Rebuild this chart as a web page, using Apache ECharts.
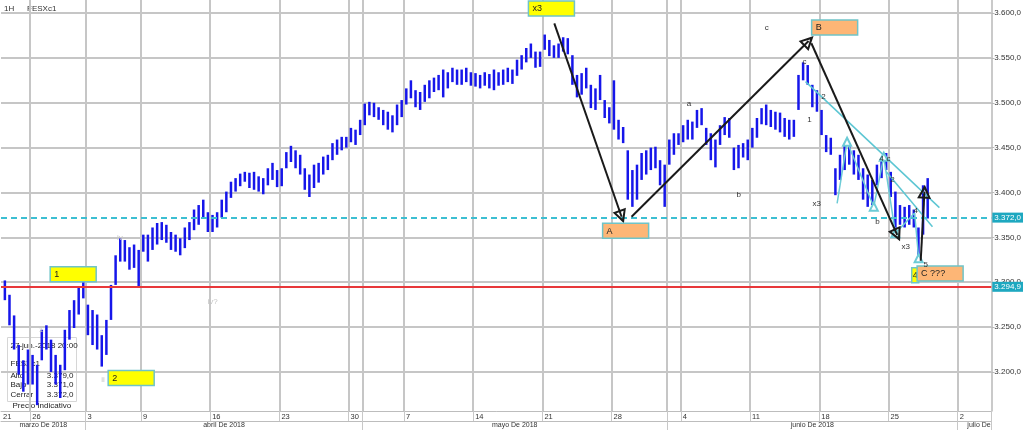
<!DOCTYPE html>
<html><head><meta charset="utf-8">
<script src="https://cdn.jsdelivr.net/npm/echarts@6/dist/echarts.min.js"></script>
<style>html,body{margin:0;padding:0;background:#fff}#c{width:1024px;height:430px}</style>
</head><body><div id="c"></div>
<script>
const FONT = '"Liberation Sans", Arial, Helvetica, sans-serif';

// ---- x axis: trading-day index (0 = 21 mar 2018, 3 = 26 mar, 70 = 2 jul) ----
const xMin = 0.887, xMax = 72.43;
const gridDays = [3, 7, 11, 16, 21, 26, 27, 30, 35, 40, 45, 49, 50, 55, 60, 65, 70];
const weekLabelDays = [xMin, 3, 7, 11, 16, 21, 26, 30, 35, 40, 45, 50, 55, 60, 65, 70];
const weekLabels = ['21', '26', '3', '9', '16', '23', '30', '7', '14', '21', '28', '4', '11', '18', '25', '2'];
const monthBoundaries = [7, 27, 49, 70];
const monthLabelDays = [(xMin + 7) / 2, 17, 38, 59.5];
const monthLabels = ['marzo De 2018', 'abril De 2018', 'mayo De 2018', 'junio De 2018'];
const lastMonthLabel = 'julio De 2018';
const lastMonthDay = 70.7;

// ---- y axis ----
const yMin = 3156.5, yMax = 3614.5;
const priceTicks = [3200, 3250, 3300, 3350, 3400, 3450, 3500, 3550, 3600];

// ---- price bars (3 slots per trading day, from 22 mar = day 1 to 27 jun = day 67) ----
const slotsPerDay = 3;
const firstDay = 1;
const barHigh = [
 3302,3286,3263, 3230,3213,3225, 3219,3208,3247, 3252,3236,3219, 3208,3247,3269, 3280,3294,3300,
 3275,3269,3264, 3241,3258,3297, 3330,3349,3347, 3339,3342,3336,
 3353,3353,3361, 3366,3367,3364, 3356,3353,3349, 3361,3367,3381, 3386,3392,3378,
 3375,3378,3392, 3401,3412,3416, 3421,3423,3422, 3423,3418,3416, 3427,3433,3425,
 3427,3445,3452, 3447,3442,3427, 3420,3431,3433, 3440,3442,3455, 3459,3462,3462,
 3472,3470,3481, 3499,3501,3500, 3495,3492,3490, 3486,3498,3503,
 3516,3525,3514, 3512,3520,3525, 3528,3531,3537, 3534,3539,3537, 3537,3539,3534,
 3533,3531,3534, 3532,3537,3534, 3537,3539,3537, 3548,3553,3561, 3566,3557,3557,
 3576,3570,3564, 3566,3573,3572, 3553,3531,3533, 3539,3520,3516, 3531,3503,3495,
 3525,3481,3473, 3447,3425,3431, 3444,3447,3450, 3451,3436,3431, 3459,3466,3466,
 3475,3481,3479, 3492,3494,3472, 3466,3459,3475, 3484,3483,3450, 3453,3455,3459,
 3472,3483,3494, 3498,3492,3490, 3489,3483,3481, 3481,3531,3545, 3542,3520,3514,
 3492,3464,3461, 3427,3442,3453, 3455,3447,3442, 3427,3420,3414, 3431,3436,3444,
 3423,3401,3386, 3384,3386,3381, 3361,3408,3416
];
const barLow = [
 3280,3252,3225, 3197,3178,3186, 3186,3163,3213, 3225,3200,3186, 3171,3202,3236, 3249,3264,3282,
 3241,3230,3225, 3206,3219,3258, 3297,3323,3323, 3314,3316,3294,
 3334,3323,3336, 3342,3347,3344, 3336,3334,3330, 3338,3347,3358, 3364,3372,3356,
 3356,3361,3372, 3378,3394,3401, 3407,3412,3405, 3403,3401,3398, 3408,3414,3406,
 3407,3427,3434, 3427,3420,3403, 3395,3405,3411, 3420,3425,3436, 3442,3447,3450,
 3456,3453,3464, 3475,3486,3484, 3481,3475,3470, 3467,3475,3484,
 3498,3505,3495, 3492,3501,3505, 3512,3514,3506, 3516,3523,3520, 3520,3523,3519,
 3518,3516,3519, 3516,3514,3519, 3520,3523,3521, 3530,3537,3545, 3550,3539,3540,
 3559,3552,3550, 3550,3557,3554, 3520,3506,3509, 3516,3494,3492, 3503,3483,3477,
 3470,3459,3455, 3392,3384,3392, 3414,3420,3425, 3427,3408,3384, 3431,3442,3453,
 3456,3459,3459, 3472,3475,3453, 3436,3428,3453, 3464,3461,3425, 3427,3439,3436,
 3450,3461,3476, 3475,3473,3470, 3467,3462,3459, 3462,3492,3525, 3520,3495,3490,
 3464,3445,3442, 3397,3414,3425, 3431,3420,3414, 3392,3384,3386, 3408,3416,3425,
 3395,3355,3364, 3361,3364,3361, 3325,3353,3371
];

// ---- horizontal reference levels ----
const lastClose = 3372.0;
const supportLevel = 3294.9;

// ---- info box ----
const infoTime = '27-jun.-2018 20:00';
const infoSymbol = 'FESXc1';
const infoNames = ['Alto', 'Bajo', 'Cerrar'];
const infoValues = [3379.0, 3371.0, 3372.0];
const infoFooter = 'Precio Indicativo';

// ---- annotations (day index, price) ----
const arrowFrom = [[40.86, 3588.5], [46.44, 3373.0], [59.43, 3566.3], [67.33, 3324.0]];
const arrowTo   = [[45.72, 3373.0], [59.23, 3568.8], [65.63, 3352.7], [67.60, 3400.9]];
const trendFrom = [[59.01, 3523.5], [64.84, 3423.2]];
const trendTo   = [[68.68, 3383.1], [68.18, 3361.9]];
const waveDays   = [61.29, 62.01, 63.94, 64.66, 65.50, 66.89, 67.18];
const wavePrices = [3388.0, 3456.6, 3384.2, 3439.9, 3354.5, 3377.2, 3326.7];
const waveMarked = [false, true, true, true, true, false, true];

const boxDays   = [38.99, 4.44, 8.63, 44.35, 59.45, 66.68, 67.07];
const boxPrices = [3613.4, 3317.3, 3201.5, 3365.7, 3592.2, 3316.2, 3318.1];
const boxTexts  = ['x3', '1', '2', 'A', 'B', '4', 'C ???'];
const boxKinds  = ['y', 'y', 'y', 'o', 'o', 'ys', 'o'];

const noteDays   = [56.2, 50.58, 54.18, 58.94, 60.31, 59.30, 59.81, 64.21, 64.50, 65.0, 65.29, 66.97, 66.25, 67.69, 3.77, 9.48, 8.25, 16.17];
const notePrices = [3583.3, 3498.6, 3397.2, 3545.4, 3506.4, 3480.8, 3387.2, 3367.2, 3437.3, 3437.3, 3413.9, 3379.4, 3339.3, 3319.2, 3246.8, 3349.3, 3191.1, 3278.0];
const noteTexts  = ['c', 'a', 'b', 'c', '2', '1', 'x3', 'b', '4', 'c', '2', '4', 'x3', '5', '1', 'iv', 'ii', 'iv?'];
const noteFaint  = [0,0,0,0,0,0,0,0,0,0,0,0,0,0,1,1,1,1];

function fmt(v) {
  const parts = v.toFixed(1).split('.');
  return parts[0].replace(/\B(?=(\d{3})+(?!\d))/g, '.') + ',' + parts[1];
}

const barData = barHigh.map((h, j) => [firstDay + Math.floor(j / slotsPerDay) + ((j % slotsPerDay) + 0.5) / slotsPerDay, barLow[j], h]);

const HOLLOW_TRI = 'path://M0,0 L10,17 L-10,17 Z M0,6 L-5.5,14.5 L5.5,14.5 Z';

const chart = echarts.init(document.getElementById('c'), null, {renderer: 'canvas'});
const gridColor = '#c6c6c6';

const option = {
  animation: false,
  backgroundColor: '#ffffff',
  textStyle: {fontFamily: FONT},
  grid: {left: 0, right: 32, top: 0, bottom: 19, containLabel: false},
  xAxis: [
    {
      type: 'value', min: xMin, max: xMax, position: 'bottom',
      axisLine: {show: true, lineStyle: {color: '#bdbdbd', width: 1}},
      axisTick: {show: true, customValues: gridDays.concat([xMax]), length: 10, lineStyle: {color: '#c8c8c8', width: 1}},
      axisLabel: {
        show: true, customValues: weekLabelDays, align: 'left', margin: 2, padding: [0, 0, 0, 2],
        fontSize: 7.5, color: '#333', fontFamily: FONT,
        formatter: v => { const k = weekLabelDays.findIndex(d => Math.abs(d - v) < 1e-6); return k >= 0 ? weekLabels[k] : ''; }
      },
      splitLine: {show: false}
    },
    {
      type: 'value', min: xMin, max: xMax, position: 'bottom', offset: 10,
      axisLine: {show: true, lineStyle: {color: '#bdbdbd', width: 1}},
      axisTick: {show: true, customValues: monthBoundaries.concat([xMax]), length: 10, lineStyle: {color: '#c8c8c8', width: 1}},
      axisLabel: {
        show: true, customValues: monthLabelDays, margin: 1, fontSize: 7, color: '#333', fontFamily: FONT,
        formatter: v => { const k = monthLabelDays.findIndex(d => Math.abs(d - v) < 1e-6); return k >= 0 ? monthLabels[k] : ''; }
      },
      splitLine: {show: false}
    },
    {
      type: 'value', min: xMin, max: xMax, position: 'bottom', offset: 10,
      axisLine: {show: false}, axisTick: {show: false},
      axisLabel: {
        show: true, customValues: [lastMonthDay], margin: 1, align: 'left', fontSize: 7, color: '#333', fontFamily: FONT,
        width: 27, overflow: 'truncate', ellipsis: '',
        formatter: () => lastMonthLabel
      },
      splitLine: {show: false}
    }
  ],
  yAxis: {
    type: 'value', position: 'right', min: yMin, max: yMax, splitNumber: 9,
    axisLine: {show: true, lineStyle: {color: '#b8b8b8', width: 1.5}},
    axisTick: {show: true, length: 3, lineStyle: {color: '#b8b8b8'}},
    axisLabel: {show: true, showMinLabel: false, showMaxLabel: false, margin: 3, fontSize: 8, color: '#333', fontFamily: FONT, formatter: v => fmt(v)},
    splitLine: {show: false}
  },
  graphic: [
    {type: 'text', left: 4, top: 5, style: {text: '1H', fontSize: 8, fill: '#333', fontFamily: FONT}},
    {type: 'text', left: 27, top: 5, style: {text: infoSymbol, fontSize: 8, fill: '#333', fontFamily: FONT}},
    {
      type: 'group', left: 7, top: 337, z: 50,
      children: [
        {type: 'rect', shape: {x: 0, y: 0, width: 69, height: 64}, style: {fill: 'rgba(255,255,255,0.55)', stroke: '#d6d6d6', lineWidth: 1}},
        {type: 'text', x: 3, y: 4, style: {text: infoTime, fontSize: 8, fill: '#222', fontFamily: FONT}},
        {type: 'text', x: 3, y: 22, style: {text: infoSymbol, fontSize: 8, fill: '#222', fontFamily: FONT}},
        ...infoNames.map((n, k) => ({type: 'text', x: 3, y: 34 + k * 9.5, style: {text: n, fontSize: 8, fill: '#222', fontFamily: FONT}})),
        ...infoValues.map((v, k) => ({type: 'text', x: 66, y: 34 + k * 9.5, style: {text: fmt(v), fontSize: 8, fill: '#222', align: 'right', fontFamily: FONT}})),
        {type: 'text', x: 5, y: 64, style: {text: infoFooter, fontSize: 8, fill: '#222', fontFamily: FONT}}
      ]
    }
  ],
  series: [
    {
      type: 'line', data: [], z: 1, silent: true,
      markLine: {
        silent: true, symbol: 'none', z: 1, label: {show: false}, animation: false,
        lineStyle: {color: gridColor, width: 2, type: 'solid'},
        data: gridDays.map(d => ({xAxis: d})).concat(priceTicks.map(p => ({yAxis: p})))
      }
    },
    {
      type: 'custom', name: 'FESXc1', z: 3, clip: true,
      encode: {x: 0, y: [1, 2]},
      data: barData,
      renderItem: (params, api) => {
        const x = api.value(0);
        const a = api.coord([x, api.value(2)]);
        const b = api.coord([x, api.value(1)]);
        return {type: 'line', shape: {x1: a[0], y1: a[1], x2: b[0], y2: b[1]}, style: {stroke: '#1616ea', lineWidth: 2.5}};
      }
    },
    {
      type: 'line', data: [], z: 4, silent: true,
      markLine: {
        silent: true, symbol: 'none', z: 4, animation: false,
        label: {show: true, position: 'end', distance: 1, color: '#fff', backgroundColor: '#1ea8c0', fontSize: 8, padding: [1, 2, 1, 2], fontFamily: FONT},
        data: [
          {yAxis: lastClose, lineStyle: {color: '#3cbfd2', width: 2, type: [6, 4]}, label: {formatter: fmt(lastClose)}},
          {yAxis: supportLevel, lineStyle: {color: '#e8383a', width: 2, type: 'solid'}, label: {formatter: fmt(supportLevel)}}
        ]
      }
    },
    {
      type: 'lines', coordinateSystem: 'cartesian2d', z: 6, silent: true,
      symbol: ['none', HOLLOW_TRI], symbolSize: [15, 14],
      lineStyle: {color: '#1a1a1a', width: 2, opacity: 1},
      data: arrowFrom.map((f, k) => ({coords: [f, arrowTo[k]]}))
    },
    {
      type: 'lines', coordinateSystem: 'cartesian2d', z: 5, silent: true,
      symbol: 'none',
      lineStyle: {color: '#5cc6d3', width: 1.5, opacity: 1},
      data: trendFrom.map((f, k) => ({coords: [f, trendTo[k]]}))
    },
    {
      type: 'line', z: 5, silent: true,
      data: waveDays.map((d, k) => ({value: [d, wavePrices[k]], symbol: waveMarked[k] ? 'emptyTriangle' : 'none'})),
      symbolSize: 8, lineStyle: {color: '#6ccbd6', width: 1.5}, itemStyle: {color: '#6ccbd6', borderWidth: 1.5}
    },
    {
      type: 'custom', z: 7, silent: true, clip: false,
      data: boxDays.map((d, k) => [d, boxPrices[k], k]),
      renderItem: (params, api) => {
        const k = api.value(2);
        const p = api.coord([api.value(0), api.value(1)]);
        const kind = boxKinds[k];
        const w = kind === 'ys' ? 7 : 46;
        const fill = kind === 'o' ? '#fdb676' : '#ffff00';
        return {
          type: 'group', children: [
            {type: 'rect', shape: {x: p[0], y: p[1], width: w, height: 15}, style: {fill: fill, stroke: '#6fc4c8', lineWidth: 1.5}},
            {type: 'text', x: p[0] + (kind === 'ys' ? 1 : 4), y: p[1] + 8, style: {text: boxTexts[k], fontSize: 9, fill: '#222', verticalAlign: 'middle', fontFamily: FONT}}
          ]
        };
      }
    },
    {
      type: 'custom', z: 8, silent: true, clip: false,
      data: noteDays.map((d, k) => [d, notePrices[k], k]),
      renderItem: (params, api) => {
        const k = api.value(2);
        const p = api.coord([api.value(0), api.value(1)]);
        return {type: 'text', x: p[0], y: p[1], style: {text: noteTexts[k], fontSize: 8, fill: noteFaint[k] ? '#c4c4c4' : '#333', align: 'center', verticalAlign: 'middle', fontFamily: FONT}};
      }
    }
  ]
};
chart.setOption(option);
</script>
</body></html>
